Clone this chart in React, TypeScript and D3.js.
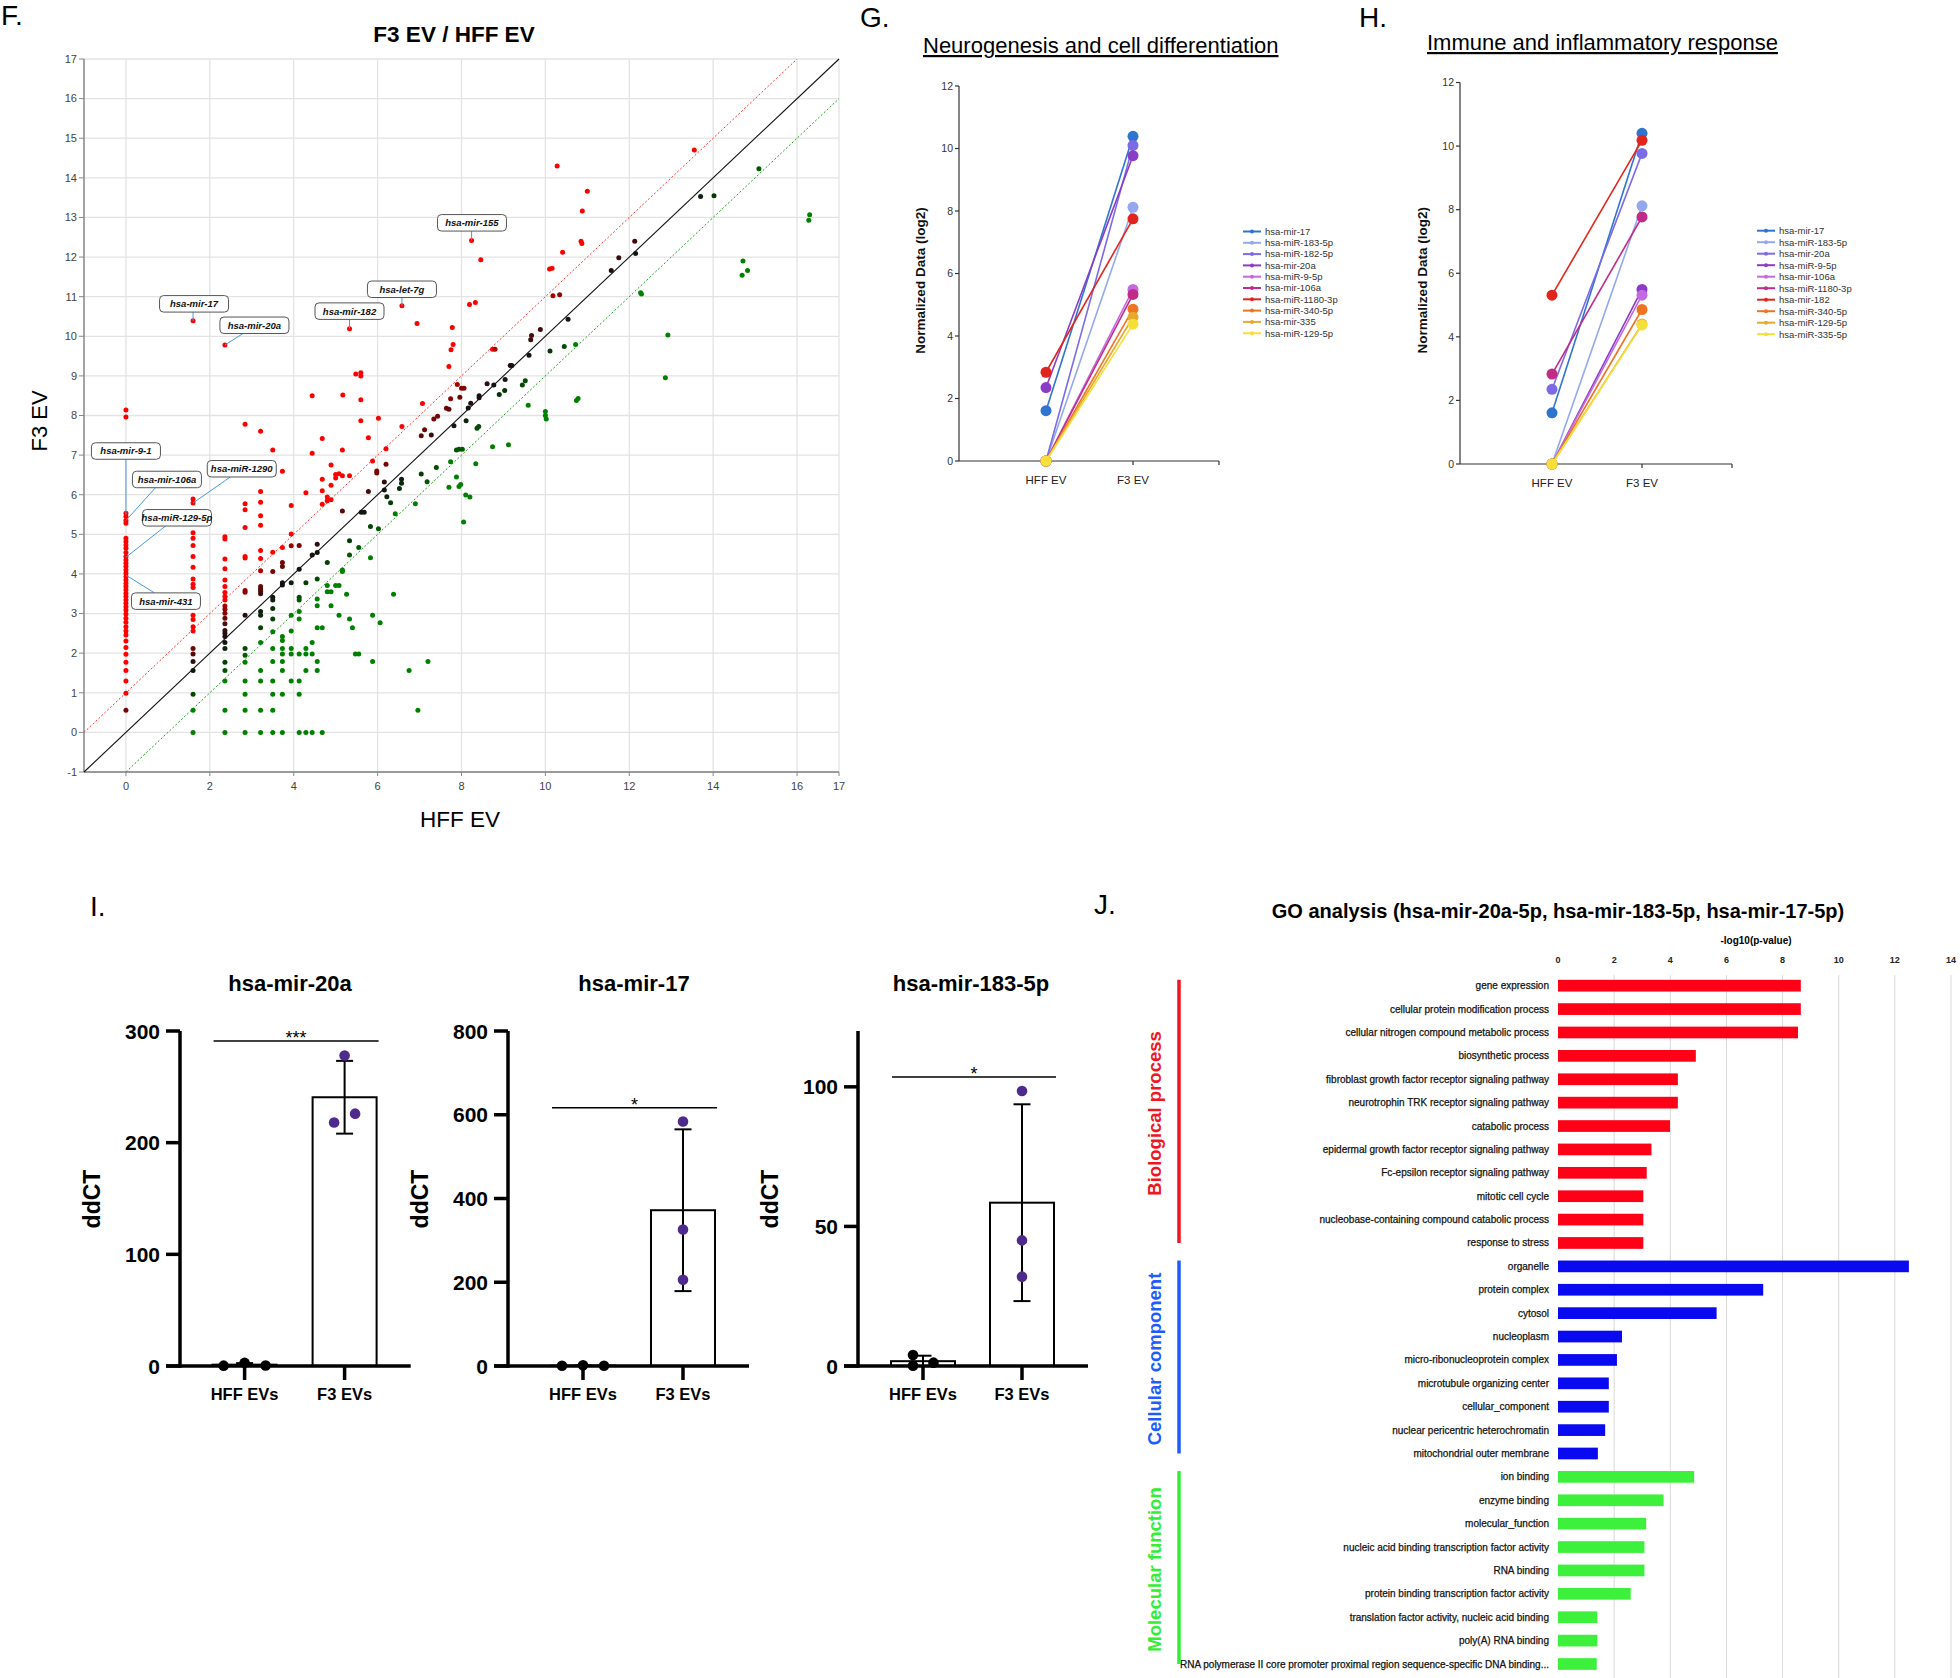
import React from 'react';
import * as d3 from 'd3';

// ================= Panel F data =================
const scatterPoints: [number, number][] = [
  [0,8.14],[0,7.96],[0,5.53],[0,5.45],[0,5.35],[0,5.28],[0,4.9],[0,4.82],[0,4.73],[0,4.65],[0,4.54],[0,4.44],[0,4.35],[0,4.27],[0,4.19],[0,4.1],[0,4.02],[0,3.93],[0,3.85],[0,3.76],[0,3.68],[0,3.6],[0,3.51],[0,3.43],[0,3.34],[0,3.26],[0,3.17],[0,3.09],[0,2.99],[0,2.88],[0,2.78],[0,2.67],[0,2.56],[0,2.46],[0,2.31],[0,2.14],[0,1.97],[0,1.77],[0,1.56],[0,1.3],[0,0.99],[0,0.56],
  [1.6,10.39],[1.6,5.89],[1.6,5.79],[1.6,5.04],[1.6,4.9],[1.6,4.72],[1.6,4.44],[1.6,4.17],[1.6,3.87],[1.6,3.74],[1.6,3.66],[1.6,3.43],[1.6,3.26],[1.6,2.96],[1.6,2.85],[1.6,2.67],[1.6,2.56],[1.6,2.12],[1.6,1.98],[1.6,1.79],[1.6,1.56],[1.6,0.96],[1.6,0.56],[1.6,0],
  [2.36,9.78],[2.36,4.94],[2.36,4.88],[2.36,4.38],[2.36,4.13],[2.36,3.85],[2.36,3.68],[2.36,3.53],[2.36,3.43],[2.36,3.34],[2.36,3.19],[2.36,3.11],[2.36,3.01],[2.36,2.88],[2.36,2.74],[2.36,2.57],[2.36,2.5],[2.36,2.42],[2.36,2.27],[2.36,2.12],[2.36,1.77],[2.36,1.56],[2.36,1.3],[2.36,0.56],[2.36,0],
  [2.84,7.78],[2.84,5.77],[2.84,5.62],[2.84,5.17],[2.84,4.44],[2.84,4.4],[2.84,3.58],[2.84,3.54],[2.84,2.96],[2.84,2.12],[2.84,1.95],[2.84,1.77],[2.84,1.3],[2.84,0.96],[2.84,0.56],[2.84,0],
  [3.21,7.6],[3.21,6.08],[3.21,5.81],[3.21,5.47],[3.21,5.23],[3.21,4.59],[3.21,4.39],[3.21,4.08],[3.21,3.68],[3.21,3.62],[3.21,3.56],[3.21,3.5],[3.21,3.05],[3.21,2.96],[3.21,2.64],[3.21,2.27],[3.21,1.56],[3.21,1.3],[3.21,0.56],[3.21,0],
  [3.5,7.13],[3.5,4.55],[3.5,4.06],[3.5,3.41],[3.5,3.34],[3.5,3.13],[3.5,2.86],[3.5,2.54],[3.5,2.12],[3.5,1.79],[3.5,1.3],[3.5,0.96],[3.5,0.56],[3.5,0],
  [3.73,6.59],[3.73,4.67],[3.73,4.29],[3.73,4.19],[3.73,3.78],[3.73,3.72],[3.73,2.42],[3.73,2.32],[3.73,2.12],[3.73,1.98],[3.73,1.79],[3.73,1.56],[3.73,0.96],[3.73,0],
  [3.94,5.73],[3.94,5.01],[3.94,4.71],[3.94,3.78],[3.94,2.96],[3.94,2.56],[3.94,2.12],[3.94,1.98],[3.94,1.3],
  [4.13,4.72],[4.13,4.12],[4.13,3.41],[4.13,3.34],[4.13,3.05],[4.13,2.86],[4.13,1.98],[4.13,1.3],[4.13,0.96],[4.13,0],
  [4.29,6.05],[4.29,3.78],[4.29,2.12],[4.29,1.98],[4.29,1.56],[4.29,0],
  [4.44,8.5],[4.44,7.05],[4.44,4.48],[4.44,2.27],[4.44,1.98],[4.44,0],
  [4.56,4.75],[4.56,4.54],[4.56,3.87],[4.56,3.37],[4.56,3.2],[4.56,2.64],[4.56,1.79],[4.56,1.56],
  [4.68,7.42],[4.68,6.39],[4.68,6.1],[4.68,5.76],[4.68,2.64],[4.68,0],
  [4.8,5.94],[4.8,5.85],[4.8,4.29],[4.8,3.71],[4.8,3.55],
  [4.89,6.75],[4.89,6.24],[4.89,5.87],[4.89,3.55],[4.89,3.2],
  [5.0,6.42],[5.0,6.51],[5.0,3.71],
  [5.08,6.53],[5.08,3.71],[5.08,2.96],
  [5.17,8.52],[5.16,7.13],[5.16,6.48],[5.16,5.59],[5.16,4.1],[5.16,4.06],
  [5.26,3.49],
  [5.33,10.19],[5.33,6.48],[5.33,4.84],[5.33,4.48],[5.33,2.86],
  [5.4,2.64],
  [5.48,9.05],[5.47,1.98],
  [5.55,4.67],[5.55,1.98],
  [5.6,9.08],[5.6,9.0],[5.6,8.4],[5.6,7.87],[5.61,5.56],
  [5.68,5.56],
  [5.78,7.44],[5.78,6.08],
  [5.83,5.2],[5.83,4.41],
  [5.88,6.85],[5.88,2.96],[5.88,1.79],
  [5.98,6.6],[5.98,6.55],
  [6.02,7.93],[6.02,5.14],
  [6.06,2.77],
  [6.16,6.12],[6.16,6.32],
  [6.2,7.16],[6.2,6.77],
  [6.22,5.95],[6.31,5.8],[6.38,3.49],[6.42,5.52],[6.52,6.16],
  [6.57,6.39],[6.57,6.29],
  [6.58,10.77],[6.58,7.72],
  [6.75,1.56],[6.9,5.77],[6.94,10.32],[6.96,0.56],
  [7.04,7.49],[7.04,6.52],[7.07,8.3],[7.12,7.64],[7.18,6.33],[7.2,1.79],[7.28,7.51],[7.34,7.91],[7.4,6.69],[7.43,7.98],
  [7.64,8.18],[7.7,8.16],[7.7,9.24],[7.7,6.19],[7.74,8.42],[7.74,6.83],[7.75,9.66],[7.78,10.22],[7.8,9.79],[7.82,7.74],
  [7.88,7.13],[7.88,6.45],[7.9,8.78],[7.94,7.15],[7.94,6.21],[7.96,8.46],[7.98,6.26],[8.0,8.69],[8.02,7.15],[8.05,5.31],[8.06,8.69],
  [8.1,5.99],[8.11,7.87],[8.16,8.19],[8.19,10.8],[8.2,5.94],[8.22,8.31],[8.24,12.42],[8.33,10.85],[8.34,6.78],[8.37,7.68],[8.41,7.72],
  [8.42,8.5],[8.42,8.45],[8.46,11.93],[8.61,8.8],[8.74,9.67],[8.74,7.21],[8.77,8.77],[8.8,9.67],[8.9,8.53],[9.03,8.63],[9.04,8.91],
  [9.12,7.26],[9.16,9.26],[9.2,9.26],[9.45,8.77],[9.52,8.88],[9.59,8.26],[9.61,9.52],[9.65,9.91],[9.67,10.02],[9.88,10.17],
  [10.0,8.1],[10.0,8.0],[10.02,7.91],[10.1,11.7],[10.16,11.72],[10.11,9.63],[10.18,11.02],[10.28,14.3],[10.34,11.05],[10.41,12.12],
  [10.45,9.74],[10.54,10.43],[10.72,9.79],[10.74,8.38],[10.78,8.43],[10.85,12.4],[10.87,12.34],[10.88,13.16],[11.0,13.66],
  [11.57,11.66],[11.75,11.98],[12.13,12.4],[12.15,12.09],[12.27,11.1],[12.29,11.07],[12.86,8.95],[12.92,10.03],
  [13.55,14.7],[13.7,13.53],[14.02,13.55],[14.69,11.54],[14.71,11.9],[14.82,11.66],[15.09,14.23],[16.3,13.07],[16.28,12.93],
];

const scatterLabels = ['hsa-mir-17','hsa-mir-20a','hsa-mir-182','hsa-let-7g','hsa-mir-155','hsa-mir-9-1','hsa-mir-106a','hsa-miR-1290','hsa-miR-129-5p','hsa-mir-431'];
const scatterLabelHFF = [1.6, 2.36, 5.33, 6.58, 8.24, 0, 0, 1.6, 0, 0];
const scatterLabelF3 = [10.39, 9.78, 10.19, 10.77, 12.42, 5.5, 5.35, 5.79, 4.42, 3.97];
// box offsets (px) from the labelled point
const labelOffsets: [number, number][] = [[1,-17],[29.5,-19.7],[0,-17.6],[0,-16.5],[0.4,-17.6],[0,-63.5],[41,-41],[48.7,-34.3],[51,-39.5],[40,26]];

// ================= Panel G / H data =================
const gNames = ['hsa-mir-17','hsa-miR-183-5p','hsa-miR-182-5p','hsa-mir-20a','hsa-miR-9-5p','hsa-mir-106a','hsa-miR-1180-3p','hsa-miR-340-5p','hsa-mir-335','hsa-miR-129-5p'];
const gHFF = [1.61, 0, 0, 2.35, 0, 0, 2.84, 0, 0, 0];
const gF3 = [10.39, 8.12, 10.1, 9.77, 5.49, 5.33, 7.75, 4.86, 4.6, 4.38];
const hNames = ['hsa-mir-17','hsa-miR-183-5p','hsa-mir-20a','hsa-miR-9-5p','hsa-mir-106a','hsa-miR-1180-3p','hsa-mir-182','hsa-miR-340-5p','hsa-miR-129-5p','hsa-miR-335-5p'];
const hHFF = [1.61, 0, 2.35, 0, 0, 2.83, 5.31, 0, 0, 0];
const hF3 = [10.4, 8.12, 9.77, 5.49, 5.31, 7.77, 10.18, 4.86, 4.4, 4.37];
const slopeColors = ['#2f74d0','#93a8ef','#7b6be6','#8a3cc8','#c569e0','#c02b87','#e0261c','#ee7421','#e8a92a','#f5e03a'];
const slopeCategories = ['HFF EV', 'F3 EV'];
const slopeTicks = [0, 2, 4, 6, 8, 10, 12];

// ================= Panel I data =================
const iTitles = ['hsa-mir-20a', 'hsa-mir-17', 'hsa-mir-183-5p'];
const iGroups = ['HFF EVs', 'F3 EVs'];
const mir20aHFF = [0.3, 2.8, 0.5];
const mir20aF3 = [278, 226, 218];
const mir17HFF = [0.5, 1.5, 0.6];
const mir17F3 = [584, 326, 206];
const mir183HFF = [3.9, 0.1, 1.2];
const mir183F3 = [98.5, 45, 32];
const iYMax = [300, 800, 120];
const iTicks = [[0, 100, 200, 300], [0, 200, 400, 600, 800], [0, 50, 100]];
const iStars = ['***', '*', '*'];
const iSigValue = [291, 617, 103.5];

// ================= Panel J data =================
const bioTerms = ['gene expression','cellular protein modification process','cellular nitrogen compound metabolic process','biosynthetic process','fibroblast growth factor receptor signaling pathway','neurotrophin TRK receptor signaling pathway','catabolic process','epidermal growth factor receptor signaling pathway','Fc-epsilon receptor signaling pathway','mitotic cell cycle','nucleobase-containing compound catabolic process','response to stress'];
const bioValues = [8.65, 8.65, 8.55, 4.91, 4.27, 4.27, 3.99, 3.33, 3.16, 3.04, 3.04, 3.04];
const cellTerms = ['organelle','protein complex','cytosol','nucleoplasm','micro-ribonucleoprotein complex','microtubule organizing center','cellular_component','nuclear pericentric heterochromatin','mitochondrial outer membrane'];
const cellValues = [12.5, 7.31, 5.65, 2.28, 2.1, 1.81, 1.81, 1.68, 1.42];
const molTerms = ['ion binding','enzyme binding','molecular_function','nucleic acid binding transcription factor activity','RNA binding','protein binding transcription factor activity','translation factor activity, nucleic acid binding','poly(A) RNA binding','RNA polymerase II core promoter proximal region sequence-specific DNA binding...'];
const molValues = [4.85, 3.76, 3.14, 3.08, 3.08, 2.59, 1.4, 1.4, 1.38];
const goGroupNames = ['Biological process', 'Cellular component', 'Molecular function'];
const goTicks = [0, 2, 4, 6, 8, 10, 12, 14];

const FONT = "'Liberation Sans', Arial, Helvetica, sans-serif";

function pointColor(x: number, y: number) {
  const d = y - x;
  if (d >= 0.9) return '#ff0000';
  if (d <= -0.9) return '#008000';
  if (d >= 0) return d3.interpolateRgb('#111111', '#b00000')(d / 0.9);
  return d3.interpolateRgb('#111111', '#005c00')(-d / 0.9);
}

function PanelF() {
  const x = d3.scaleLinear().domain([-1, 17]).range([84, 839]);
  const y = d3.scaleLinear().domain([-1, 17]).range([772, 59]);
  const yTicks = d3.range(-1, 18);
  const xGrid = [0, 2, 4, 6, 8, 10, 12, 14, 16, 17];
  const xLabels = [0, 2, 4, 6, 8, 10, 12, 14, 16, 17];
  return (
    <g>
      <text x={1} y={25} fontSize={28}>F.</text>
      <text x={454} y={42} fontSize={22.5} fontWeight="bold" textAnchor="middle">F3 EV / HFF EV</text>
      {yTicks.map(t => <line key={'gy' + t} x1={x(-1)} x2={x(17)} y1={y(t)} y2={y(t)} stroke="#e3e3e3" strokeWidth={1.3} />)}
      {xGrid.map(t => <line key={'gx' + t} x1={x(t)} x2={x(t)} y1={y(-1)} y2={y(17)} stroke="#e3e3e3" strokeWidth={1.3} />)}
      <line x1={x(-1)} x2={x(-1)} y1={y(-1)} y2={y(17)} stroke="#9a9a9a" strokeWidth={1.8} />
      <line x1={x(-1)} x2={x(17)} y1={y(-1)} y2={y(-1)} stroke="#9a9a9a" strokeWidth={1.8} />
      {yTicks.map(t => (
        <g key={'ty' + t}>
          <line x1={x(-1) - 5} x2={x(-1)} y1={y(t)} y2={y(t)} stroke="#888" />
          <text x={x(-1) - 7} y={y(t)} dy="0.35em" textAnchor="end" fontSize={11} fill="#444">{t}</text>
        </g>
      ))}
      {xLabels.map(t => (
        <g key={'tx' + t}>
          <line x1={x(t)} x2={x(t)} y1={y(-1)} y2={y(-1) + 4} stroke="#888" />
          <text x={x(t)} y={y(-1) + 18} textAnchor="middle" fontSize={11} fill="#444">{t}</text>
        </g>
      ))}
      <line x1={x(-1)} y1={y(0)} x2={x(16)} y2={y(17)} stroke="#ff3333" strokeWidth={1} strokeDasharray="2,2" />
      <line x1={x(0)} y1={y(-1)} x2={x(17)} y2={y(16)} stroke="#22a022" strokeWidth={1} strokeDasharray="2,2" />
      <line x1={x(-1)} y1={y(-1)} x2={x(17)} y2={y(17)} stroke="#111" strokeWidth={1.1} />
      {scatterPoints.map(([px, py], i) => (
        <circle key={'p' + i} cx={x(px)} cy={y(py)} r={2.5} fill={pointColor(px, py)} />
      ))}
      {scatterLabels.map((lab, i) => {
        const px = x(scatterLabelHFF[i]);
        const py = y(scatterLabelF3[i]);
        const [dx, dy] = labelOffsets[i];
        const w = 69, h = 16.5;
        const cx = px + dx, cy = py + dy;
        const left = cx - w / 2, right = cx + w / 2;
        const above = dy < 0;
        const ay = above ? cy + h / 2 : cy - h / 2;
        const ax = px >= left + 6 && px <= right - 6 ? px : left + 23;
        return (
          <g key={'lab' + i}>
            <line x1={ax} y1={ay} x2={px} y2={py} stroke="#4a9be0" strokeWidth={1} />
            <rect x={left} y={cy - h / 2} width={w} height={h} rx={4} fill="#fff" stroke="#555" strokeWidth={1} />
            <text x={cx} y={cy} dy="0.36em" textAnchor="middle" fontSize={9.5} fontWeight="bold" fontStyle="italic" fill="#111">{lab}</text>
          </g>
        );
      })}
      <text transform="translate(47,421) rotate(-90)" textAnchor="middle" fontSize={22}>F3 EV</text>
      <text x={460} y={827} textAnchor="middle" fontSize={22.5}>HFF EV</text>
    </g>
  );
}

function SlopePanel(props: {
  letter: string; letterX: number; title: string; titleX: number; titleY: number;
  axisX: number; catX: number[]; endX: number; yTop: number; yBottom: number;
  names: string[]; hff: number[]; f3: number[]; labelX: number;
  legendX: number; legendY: number; legendStep: number;
}) {
  const { letter, letterX, title, titleX, titleY, axisX, catX, endX, yTop, yBottom, names, hff, f3, labelX, legendX, legendY, legendStep } = props;
  const y = d3.scaleLinear().domain([0, 12]).range([yBottom, yTop]);
  const xc = d3.scaleOrdinal<string, number>().domain(slopeCategories).range(catX);
  return (
    <g>
      <text x={letterX} y={27} fontSize={28}>{letter}</text>
      <text x={titleX} y={titleY} fontSize={22} style={{ textDecoration: 'underline' }}>{title}</text>
      <line x1={axisX} x2={axisX} y1={y(0)} y2={y(12)} stroke="#333" strokeWidth={1.2} />
      <line x1={axisX} x2={endX} y1={y(0)} y2={y(0)} stroke="#333" strokeWidth={1.2} />
      {slopeTicks.map(t => (
        <g key={'t' + t}>
          <line x1={axisX - 4} x2={axisX} y1={y(t)} y2={y(t)} stroke="#333" strokeWidth={1.2} />
          <text x={axisX - 6} y={y(t)} dy="0.35em" textAnchor="end" fontSize={10.5} fill="#333">{t}</text>
        </g>
      ))}
      {[...catX, endX].map((cx, i) => (
        <line key={'xt' + i} x1={cx} x2={cx} y1={y(0)} y2={y(0) + 4} stroke="#333" strokeWidth={1.2} />
      ))}
      {slopeCategories.map(c => (
        <text key={c} x={xc(c)} y={y(0) + 23} textAnchor="middle" fontSize={11.5} fill="#222">{c}</text>
      ))}
      <text transform={`translate(${labelX},${(y(0) + y(12)) / 2 + 7}) rotate(-90)`} textAnchor="middle" fontSize={13.5} fontWeight="bold" fill="#111">Normalized Data (log2)</text>
      {names.map((n, i) => (
        <g key={n}>
          <line x1={xc('HFF EV')} y1={y(hff[i])} x2={xc('F3 EV')} y2={y(f3[i])} stroke={slopeColors[i]} strokeWidth={1.6} />
          <circle cx={xc('HFF EV')} cy={y(hff[i])} r={5.5} fill={slopeColors[i]} />
          <circle cx={xc('F3 EV')} cy={y(f3[i])} r={5.5} fill={slopeColors[i]} />
        </g>
      ))}
      {names.map((n, i) => (
        <g key={'lg' + n}>
          <line x1={legendX} x2={legendX + 18} y1={legendY + i * legendStep} y2={legendY + i * legendStep} stroke={slopeColors[i]} strokeWidth={2} />
          <circle cx={legendX + 9} cy={legendY + i * legendStep} r={2} fill={slopeColors[i]} />
          <text x={legendX + 22} y={legendY + i * legendStep} dy="0.35em" fontSize={9.5} fill="#333">{n}</text>
        </g>
      ))}
    </g>
  );
}

function DotBar(props: {
  idx: number; axisX: number; hffX: number; f3X: number; endX: number; titleX: number;
  hffVals: number[]; f3Vals: number[]; hffOffsets: number[]; f3Offsets: number[];
}) {
  const { idx, axisX, hffX, f3X, endX, titleX, hffVals, f3Vals, hffOffsets, f3Offsets } = props;
  const y0 = 1366, yT = 1031;
  const y = d3.scaleLinear().domain([0, iYMax[idx]]).range([y0, yT]);
  const xs = d3.scaleOrdinal<string, number>().domain(iGroups).range([hffX, f3X]);
  const groups = [hffVals, f3Vals];
  const offs = [hffOffsets, f3Offsets];
  const barW = 64;
  const sigY = y(iSigValue[idx]);
  return (
    <g>
      <text x={titleX} y={991} textAnchor="middle" fontSize={22} fontWeight="bold">{iTitles[idx]}</text>
      <text transform={`translate(${axisX - 80},1199) rotate(-90)`} textAnchor="middle" fontSize={23} fontWeight="bold">ddCT</text>
      {iGroups.map((g, gi) => {
        const vals = groups[gi];
        const m = d3.mean(vals) as number;
        const sd = d3.deviation(vals) as number;
        const cx = xs(g);
        return (
          <g key={g}>
            <rect x={cx - barW / 2} y={y(m)} width={barW} height={y0 - y(m)} fill="#fff" stroke="#000" strokeWidth={2} />
            <line x1={cx} x2={cx} y1={y(m + sd)} y2={y(Math.max(0, m - sd))} stroke="#000" strokeWidth={2} />
            <line x1={cx - 8.5} x2={cx + 8.5} y1={y(m + sd)} y2={y(m + sd)} stroke="#000" strokeWidth={2} />
            {m - sd > 0 && <line x1={cx - 8.5} x2={cx + 8.5} y1={y(m - sd)} y2={y(m - sd)} stroke="#000" strokeWidth={2} />}
            {vals.map((v, vi) => (
              <circle key={vi} cx={cx + offs[gi][vi]} cy={y(v)} r={5.3} fill={gi === 0 ? '#000' : '#4f2a8d'} />
            ))}
          </g>
        );
      })}
      <line x1={axisX} x2={axisX} y1={y0 + 1.75} y2={yT} stroke="#000" strokeWidth={3.5} />
      <line x1={axisX - 14} x2={endX} y1={y0} y2={y0} stroke="#000" strokeWidth={3.5} />
      {iTicks[idx].map(t => (
        <g key={'t' + t}>
          <line x1={axisX - 14} x2={axisX} y1={y(t)} y2={y(t)} stroke="#000" strokeWidth={3.5} />
          <text x={axisX - 20} y={y(t)} dy="0.36em" textAnchor="end" fontSize={21} fontWeight="bold">{t}</text>
        </g>
      ))}
      {iGroups.map(g => (
        <g key={'xl' + g}>
          <line x1={xs(g)} x2={xs(g)} y1={y0} y2={y0 + 14} stroke="#000" strokeWidth={3.5} />
          <text x={xs(g)} y={1400} textAnchor="middle" fontSize={16.5} fontWeight="bold">{g}</text>
        </g>
      ))}
      <line x1={hffX - 31} x2={f3X + 34} y1={sigY} y2={sigY} stroke="#000" strokeWidth={1.5} />
      <text x={(hffX - 31 + f3X + 34) / 2} y={sigY + 3} textAnchor="middle" fontSize={18}>{iStars[idx]}</text>
    </g>
  );
}

function PanelJ() {
  const terms = [...bioTerms, ...cellTerms, ...molTerms];
  const values = [...bioValues, ...cellValues, ...molValues];
  const groupOf = [...bioTerms.map(() => 0), ...cellTerms.map(() => 1), ...molTerms.map(() => 2)];
  const barColors = ['#ff0016', '#0a0af0', '#3cf03c'];
  const labelColors = ['#f0151f', '#1f5cff', '#33ee33'];
  const x = d3.scaleLinear().domain([0, 14]).range([1558, 1951]);
  const y = d3.scaleBand<string>().domain(terms).range([974, 974 + 30 * 23.39]).paddingInner(0.5).paddingOuter(0.25);
  const bw = y.bandwidth();
  const groupTerms = [bioTerms, cellTerms, molTerms];
  return (
    <g>
      <text x={1094} y={914} fontSize={28}>J.</text>
      <text x={1558} y={918} textAnchor="middle" fontSize={20} fontWeight="bold">GO analysis (hsa-mir-20a-5p, hsa-mir-183-5p, hsa-mir-17-5p)</text>
      <text x={1756} y={944} textAnchor="middle" fontSize={10} fontWeight="bold">-log10(p-value)</text>
      {goTicks.map(t => (
        <g key={'g' + t}>
          {t > 0 && <line x1={x(t)} x2={x(t)} y1={975} y2={1678} stroke="#d9d9d9" strokeWidth={1} />}
          <text x={x(t)} y={963} textAnchor="middle" fontSize={9} fontWeight="bold" fill="#222">{t}</text>
        </g>
      ))}
      {terms.map((t, i) => (
        <g key={t}>
          <rect x={x(0)} y={y(t) as number} width={x(values[i]) - x(0)} height={bw} fill={barColors[groupOf[i]]} />
          <text x={1549} y={(y(t) as number) + bw / 2} dy="0.35em" textAnchor="end" fontSize={10} fill="#111" stroke="#111" strokeWidth={0.25}>{t}</text>
        </g>
      ))}
      {groupTerms.map((gt, gi) => {
        const top = y(gt[0]) as number;
        const bot = (y(gt[gt.length - 1]) as number) + bw / 2;
        return (
          <g key={'grp' + gi}>
            <line x1={1179} x2={1179} y1={top} y2={bot} stroke={labelColors[gi]} strokeWidth={3.5} />
            <text transform={`translate(1161,${(top + bot) / 2 + 2}) rotate(-90)`} textAnchor="middle" fontSize={18.5} fontWeight="bold" fill={labelColors[gi]}>{goGroupNames[gi]}</text>
          </g>
        );
      })}
    </g>
  );
}

export default function App() {
  return (
    <svg width={1960} height={1678} style={{ position: 'absolute', left: 0, top: 0, display: 'block', background: '#fff' }} fontFamily={FONT}>
      <rect x={0} y={0} width={1960} height={1678} fill="#fff" />
      <PanelF />
      <SlopePanel letter="G." letterX={860} title="Neurogenesis and cell differentiation" titleX={923} titleY={53}
        axisX={959} catX={[1046, 1133]} endX={1219} yTop={86} yBottom={461}
        names={gNames} hff={gHFF} f3={gF3} labelX={925} legendX={1243} legendY={231.5} legendStep={11.3} />
      <SlopePanel letter="H." letterX={1359} title="Immune and inflammatory response" titleX={1427} titleY={50}
        axisX={1460} catX={[1552, 1642]} endX={1732} yTop={82.5} yBottom={464}
        names={hNames} hff={hHFF} f3={hF3} labelX={1427} legendX={1757} legendY={230.7} legendStep={11.5} />
      <text x={90} y={916} fontSize={28}>I.</text>
      <DotBar idx={0} axisX={180} hffX={244.6} f3X={344.6} endX={410.7} titleX={290}
        hffVals={mir20aHFF} f3Vals={mir20aF3} hffOffsets={[-21, 0, 21]} f3Offsets={[0, 10.5, -10.5]} />
      <DotBar idx={1} axisX={508} hffX={583} f3X={683} endX={749} titleX={634}
        hffVals={mir17HFF} f3Vals={mir17F3} hffOffsets={[-21, 0, 21]} f3Offsets={[0, 0, 0]} />
      <DotBar idx={2} axisX={858} hffX={923} f3X={1022} endX={1088} titleX={971}
        hffVals={mir183HFF} f3Vals={mir183F3} hffOffsets={[-10, -10, 10.5]} f3Offsets={[0, 0, 0]} />
      <PanelJ />
    </svg>
  );
}
